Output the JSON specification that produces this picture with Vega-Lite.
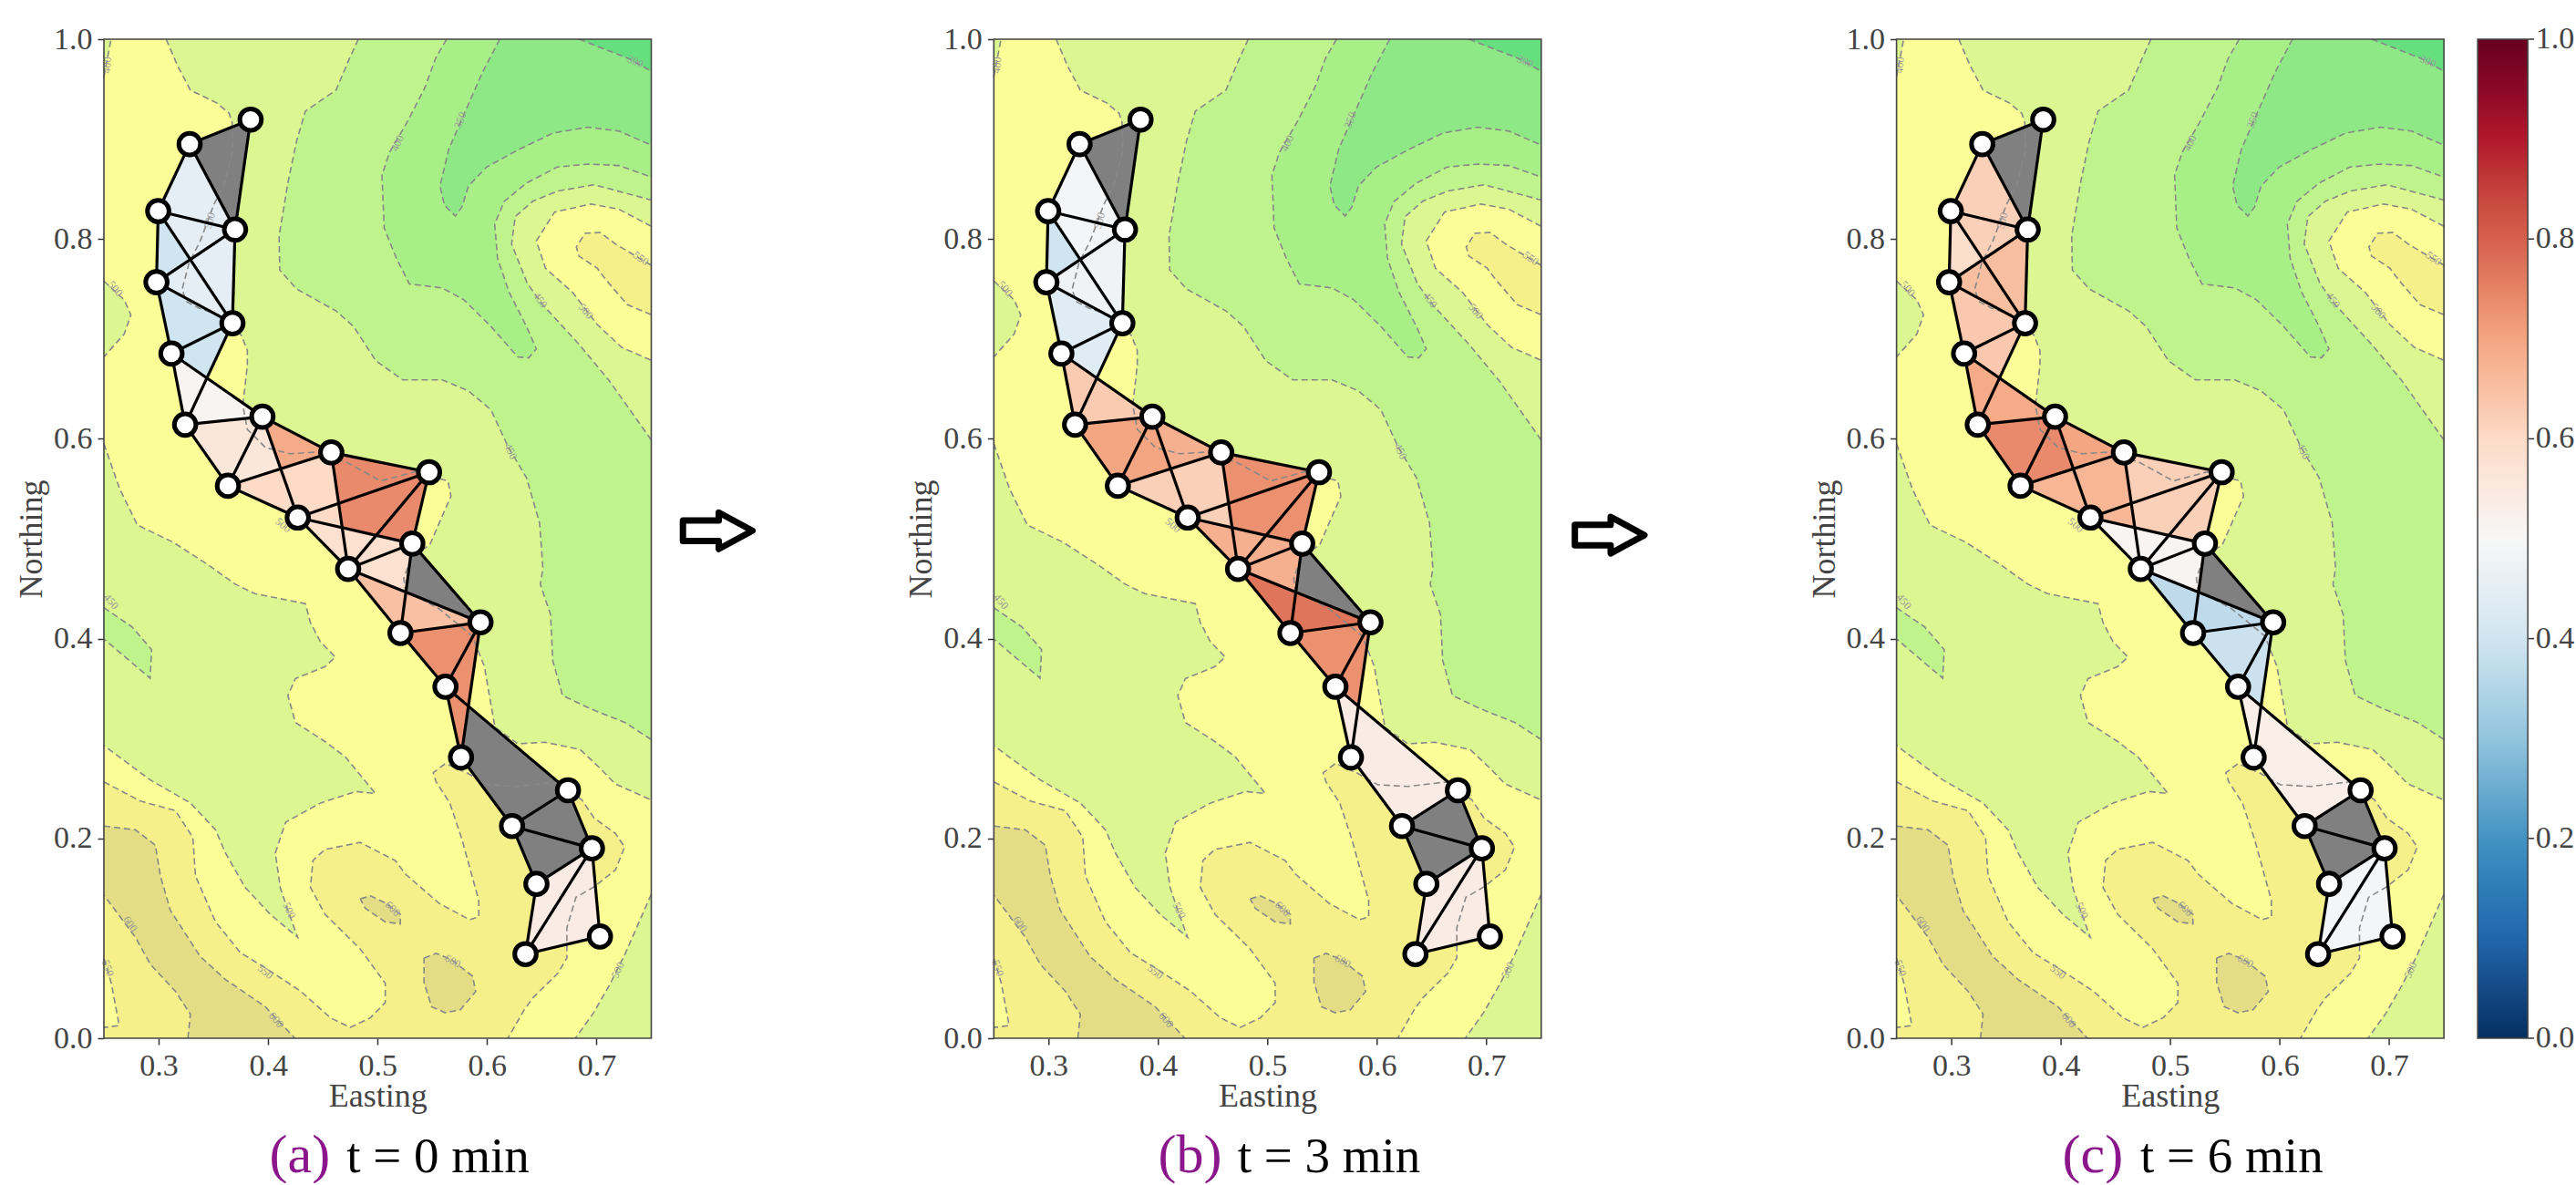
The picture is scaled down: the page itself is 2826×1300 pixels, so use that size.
{"$schema":"https://vega.github.io/schema/vega-lite/v6.json","padding":{"left":16,"top":26,"right":0,"bottom":0},"background":"white",
"config":{"view":{"fill":null,"stroke":null},"font":"Liberation Serif","axis":{"labelFont":"Liberation Serif","titleFont":"Liberation Serif","labelFontSize":34,"titleFontSize":36,"titleFontWeight":"normal","labelColor":"#444","titleColor":"#444","tickColor":"#333","tickSize":7,"tickWidth":1.5,"domain":false,"grid":false,"labelPadding":6,"labelFlush":false},"legend":{"labelFont":"Liberation Serif"}},
"datasets":{
"nodes":[{"n":1,"x":0.384,"y":0.9195},{"n":2,"x":0.3283,"y":0.895},{"n":3,"x":0.3698,"y":0.8095},{"n":4,"x":0.2996,"y":0.828},{"n":5,"x":0.298,"y":0.7568},{"n":6,"x":0.3674,"y":0.7157},{"n":7,"x":0.3117,"y":0.6854},{"n":8,"x":0.3242,"y":0.6142},{"n":9,"x":0.3948,"y":0.6222},{"n":10,"x":0.3633,"y":0.553},{"n":11,"x":0.4577,"y":0.5863},{"n":12,"x":0.547,"y":0.5666},{"n":13,"x":0.4271,"y":0.5212},{"n":14,"x":0.5317,"y":0.4951},{"n":15,"x":0.4731,"y":0.4698},{"n":16,"x":0.594,"y":0.4163},{"n":17,"x":0.5209,"y":0.4056},{"n":18,"x":0.562,"y":0.3518},{"n":19,"x":0.5762,"y":0.2812},{"n":20,"x":0.6739,"y":0.2482},{"n":21,"x":0.6228,"y":0.2124},{"n":22,"x":0.6958,"y":0.1901},{"n":23,"x":0.6451,"y":0.1545},{"n":24,"x":0.7031,"y":0.1018},{"n":25,"x":0.6351,"y":0.0842}],
"cellValues":[{"cell":"G","a":null,"b":null,"c":null},{"cell":"A","a":0.4,"b":0.4,"c":0.59},{"cell":"B","a":0.45,"b":0.49,"c":0.62},{"cell":"C","a":0.45,"b":0.48,"c":0.655},{"cell":"D","a":0.4,"b":0.44,"c":0.635},{"cell":"E","a":0.51,"b":0.63,"c":0.69},{"cell":"F","a":0.56,"b":0.7,"c":0.74},{"cell":"H","a":0.69,"b":0.68,"c":0.7},{"cell":"I","a":0.74,"b":0.73,"c":0.62},{"cell":"J","a":0.6,"b":0.62,"c":0.67},{"cell":"K","a":0.58,"b":0.68,"c":0.51},{"cell":"L","a":null,"b":null,"c":null},{"cell":"M","a":0.58,"b":0.68,"c":0.51},{"cell":"N","a":0.65,"b":0.77,"c":0.37},{"cell":"O","a":0.73,"b":0.73,"c":0.39},{"cell":"P","a":null,"b":0.54,"c":0.53},{"cell":"Q","a":null,"b":null,"c":null},{"cell":"R","a":0.54,"b":0.54,"c":0.49}],
"cellVertices":[{"cell":"G","i":0,"n":1},{"cell":"G","i":1,"n":2},{"cell":"G","i":2,"n":3},{"cell":"A","i":0,"n":4},{"cell":"A","i":1,"n":5},{"cell":"A","i":2,"n":6},{"cell":"B","i":0,"n":2},{"cell":"B","i":1,"n":3},{"cell":"B","i":2,"n":6},{"cell":"B","i":3,"n":4},{"cell":"C","i":0,"n":3},{"cell":"C","i":1,"n":5},{"cell":"C","i":2,"n":6},{"cell":"D","i":0,"n":5},{"cell":"D","i":1,"n":6},{"cell":"D","i":2,"n":8},{"cell":"D","i":3,"n":7},{"cell":"E","i":0,"n":7},{"cell":"E","i":1,"n":8},{"cell":"E","i":2,"n":9},{"cell":"F","i":0,"n":8},{"cell":"F","i":1,"n":9},{"cell":"F","i":2,"n":13},{"cell":"F","i":3,"n":10},{"cell":"H","i":0,"n":9},{"cell":"H","i":1,"n":11},{"cell":"H","i":2,"n":13},{"cell":"I","i":0,"n":11},{"cell":"I","i":1,"n":12},{"cell":"I","i":2,"n":14},{"cell":"I","i":3,"n":13},{"cell":"J","i":0,"n":10},{"cell":"J","i":1,"n":11},{"cell":"J","i":2,"n":15},{"cell":"J","i":3,"n":13},{"cell":"K","i":0,"n":13},{"cell":"K","i":1,"n":14},{"cell":"K","i":2,"n":15},{"cell":"L","i":0,"n":14},{"cell":"L","i":1,"n":16},{"cell":"L","i":2,"n":17},{"cell":"M","i":0,"n":15},{"cell":"M","i":1,"n":14},{"cell":"M","i":2,"n":17},{"cell":"N","i":0,"n":15},{"cell":"N","i":1,"n":16},{"cell":"N","i":2,"n":17},{"cell":"O","i":0,"n":17},{"cell":"O","i":1,"n":16},{"cell":"O","i":2,"n":19},{"cell":"O","i":3,"n":18},{"cell":"P","i":0,"n":18},{"cell":"P","i":1,"n":20},{"cell":"P","i":2,"n":21},{"cell":"P","i":3,"n":19},{"cell":"Q","i":0,"n":20},{"cell":"Q","i":1,"n":22},{"cell":"Q","i":2,"n":23},{"cell":"Q","i":3,"n":21},{"cell":"R","i":0,"n":22},{"cell":"R","i":1,"n":24},{"cell":"R","i":2,"n":25},{"cell":"R","i":3,"n":23}],
"edges":[{"e":"1-2","i":0,"n":1},{"e":"1-2","i":1,"n":2},{"e":"1-3","i":0,"n":1},{"e":"1-3","i":1,"n":3},{"e":"2-3","i":0,"n":2},{"e":"2-3","i":1,"n":3},{"e":"2-4","i":0,"n":2},{"e":"2-4","i":1,"n":4},{"e":"3-4","i":0,"n":3},{"e":"3-4","i":1,"n":4},{"e":"4-5","i":0,"n":4},{"e":"4-5","i":1,"n":5},{"e":"3-5","i":0,"n":3},{"e":"3-5","i":1,"n":5},{"e":"4-6","i":0,"n":4},{"e":"4-6","i":1,"n":6},{"e":"3-6","i":0,"n":3},{"e":"3-6","i":1,"n":6},{"e":"5-6","i":0,"n":5},{"e":"5-6","i":1,"n":6},{"e":"5-7","i":0,"n":5},{"e":"5-7","i":1,"n":7},{"e":"6-7","i":0,"n":6},{"e":"6-7","i":1,"n":7},{"e":"6-8","i":0,"n":6},{"e":"6-8","i":1,"n":8},{"e":"7-8","i":0,"n":7},{"e":"7-8","i":1,"n":8},{"e":"7-9","i":0,"n":7},{"e":"7-9","i":1,"n":9},{"e":"8-9","i":0,"n":8},{"e":"8-9","i":1,"n":9},{"e":"8-10","i":0,"n":8},{"e":"8-10","i":1,"n":10},{"e":"9-10","i":0,"n":9},{"e":"9-10","i":1,"n":10},{"e":"9-11","i":0,"n":9},{"e":"9-11","i":1,"n":11},{"e":"9-13","i":0,"n":9},{"e":"9-13","i":1,"n":13},{"e":"10-11","i":0,"n":10},{"e":"10-11","i":1,"n":11},{"e":"10-13","i":0,"n":10},{"e":"10-13","i":1,"n":13},{"e":"11-12","i":0,"n":11},{"e":"11-12","i":1,"n":12},{"e":"11-15","i":0,"n":11},{"e":"11-15","i":1,"n":15},{"e":"12-13","i":0,"n":12},{"e":"12-13","i":1,"n":13},{"e":"12-14","i":0,"n":12},{"e":"12-14","i":1,"n":14},{"e":"12-15","i":0,"n":12},{"e":"12-15","i":1,"n":15},{"e":"13-14","i":0,"n":13},{"e":"13-14","i":1,"n":14},{"e":"13-15","i":0,"n":13},{"e":"13-15","i":1,"n":15},{"e":"14-15","i":0,"n":14},{"e":"14-15","i":1,"n":15},{"e":"14-16","i":0,"n":14},{"e":"14-16","i":1,"n":16},{"e":"14-17","i":0,"n":14},{"e":"14-17","i":1,"n":17},{"e":"15-16","i":0,"n":15},{"e":"15-16","i":1,"n":16},{"e":"15-17","i":0,"n":15},{"e":"15-17","i":1,"n":17},{"e":"16-17","i":0,"n":16},{"e":"16-17","i":1,"n":17},{"e":"16-18","i":0,"n":16},{"e":"16-18","i":1,"n":18},{"e":"17-18","i":0,"n":17},{"e":"17-18","i":1,"n":18},{"e":"16-19","i":0,"n":16},{"e":"16-19","i":1,"n":19},{"e":"18-19","i":0,"n":18},{"e":"18-19","i":1,"n":19},{"e":"18-20","i":0,"n":18},{"e":"18-20","i":1,"n":20},{"e":"19-21","i":0,"n":19},{"e":"19-21","i":1,"n":21},{"e":"20-21","i":0,"n":20},{"e":"20-21","i":1,"n":21},{"e":"20-22","i":0,"n":20},{"e":"20-22","i":1,"n":22},{"e":"21-22","i":0,"n":21},{"e":"21-22","i":1,"n":22},{"e":"21-23","i":0,"n":21},{"e":"21-23","i":1,"n":23},{"e":"22-23","i":0,"n":22},{"e":"22-23","i":1,"n":23},{"e":"22-24","i":0,"n":22},{"e":"22-24","i":1,"n":24},{"e":"23-25","i":0,"n":23},{"e":"23-25","i":1,"n":25},{"e":"24-25","i":0,"n":24},{"e":"24-25","i":1,"n":25},{"e":"22-25","i":0,"n":22},{"e":"22-25","i":1,"n":25}],
"labels":[{"t":"300","x":0.7355,"y":0.9777,"slope":25},{"t":"350","x":0.5753,"y":0.919,"slope":-70},{"t":"400","x":0.518,"y":0.896,"slope":-65},{"t":"400","x":0.2528,"y":0.974,"slope":-85},{"t":"500","x":0.2605,"y":0.7504,"slope":50},{"t":"450","x":0.6487,"y":0.739,"slope":55},{"t":"500","x":0.6903,"y":0.7277,"slope":50},{"t":"550","x":0.7407,"y":0.7807,"slope":35},{"t":"450","x":0.6217,"y":0.5875,"slope":65},{"t":"500","x":0.3464,"y":0.8186,"slope":-75},{"t":"500","x":0.4138,"y":0.5136,"slope":40},{"t":"450","x":0.2568,"y":0.4372,"slope":50},{"t":"600","x":0.2742,"y":0.1145,"slope":55},{"t":"500","x":0.4194,"y":0.1279,"slope":65},{"t":"600","x":0.5139,"y":0.1298,"slope":45},{"t":"600","x":0.5687,"y":0.0772,"slope":30},{"t":"500","x":0.7194,"y":0.0684,"slope":-65},{"t":"550","x":0.3975,"y":0.0665,"slope":40},{"t":"600","x":0.4075,"y":0.0184,"slope":50},{"t":"550","x":0.2537,"y":0.0703,"slope":70}],
"terrain":[
{"r":"a","lev":"450","seg":null,"i":0,"x":0.25,"y":0},{"r":"a","lev":"450","seg":null,"i":1,"x":0.75,"y":0},{"r":"a","lev":"450","seg":null,"i":2,"x":0.75,"y":1},{"r":"a","lev":"450","seg":null,"i":3,"x":0.25,"y":1},
{"r":"b","lev":"400","seg":"a","i":0,"x":0.4824,"y":1},{"r":"b","lev":"400","seg":"a","i":1,"x":0.4744,"y":0.981},{"r":"b","lev":"400","seg":"a","i":2,"x":0.462,"y":0.949},{"r":"b","lev":"400","seg":"a","i":3,"x":0.434,"y":0.928},{"r":"b","lev":"400","seg":"a","i":4,"x":0.426,"y":0.898},{"r":"b","lev":"400","seg":"a","i":5,"x":0.418,"y":0.856},{"r":"b","lev":"400","seg":"a","i":6,"x":0.41,"y":0.803},{"r":"b","lev":"400","seg":"a","i":7,"x":0.4106,"y":0.769},{"r":"b","lev":"400","seg":"a","i":8,"x":0.426,"y":0.75},{"r":"b","lev":"400","seg":"a","i":9,"x":0.462,"y":0.728},{"r":"b","lev":"400","seg":"a","i":10,"x":0.478,"y":0.7125},{"r":"b","lev":"400","seg":"a","i":11,"x":0.4985,"y":0.678},{"r":"b","lev":"400","seg":"a","i":12,"x":0.523,"y":0.659},{"r":"b","lev":"400","seg":"a","i":13,"x":0.559,"y":0.659},{"r":"b","lev":"400","seg":"a","i":14,"x":0.583,"y":0.648},{"r":"b","lev":"400","seg":"a","i":15,"x":0.6035,"y":0.629},{"r":"b","lev":"400","seg":"a","i":16,"x":0.6197,"y":0.591},{"r":"b","lev":"400","seg":"a","i":17,"x":0.636,"y":0.561},{"r":"b","lev":"400","seg":"a","i":18,"x":0.648,"y":0.5155},{"r":"b","lev":"400","seg":"a","i":19,"x":0.651,"y":0.47},{"r":"b","lev":"400","seg":"a","i":20,"x":0.6486,"y":0.4545},{"r":"b","lev":"400","seg":"a","i":21,"x":0.658,"y":0.424},{"r":"b","lev":"400","seg":"a","i":22,"x":0.66,"y":0.378},{"r":"b","lev":"400","seg":"a","i":23,"x":0.669,"y":0.343},{"r":"b","lev":"400","seg":"a","i":24,"x":0.694,"y":0.33},{"r":"b","lev":"400","seg":"a","i":25,"x":0.726,"y":0.316},{"r":"b","lev":"400","seg":"a","i":26,"x":0.75,"y":0.299},
{"r":"b","lev":"400","seg":"b","i":27,"x":0.75,"y":0.5988},{"r":"b","lev":"400","seg":"b","i":28,"x":0.7117,"y":0.658},{"r":"b","lev":"400","seg":"b","i":29,"x":0.684,"y":0.6946},{"r":"b","lev":"400","seg":"b","i":30,"x":0.6507,"y":0.7343},{"r":"b","lev":"400","seg":"b","i":31,"x":0.6368,"y":0.7555},{"r":"b","lev":"400","seg":"b","i":32,"x":0.6224,"y":0.795},{"r":"b","lev":"400","seg":"b","i":33,"x":0.6257,"y":0.8224},{"r":"b","lev":"400","seg":"b","i":34,"x":0.642,"y":0.838},{"r":"b","lev":"400","seg":"b","i":35,"x":0.6646,"y":0.848},{"r":"b","lev":"400","seg":"b","i":36,"x":0.6979,"y":0.8543},{"r":"b","lev":"400","seg":"b","i":37,"x":0.75,"y":0.839},{"r":"b","lev":"400","seg":null,"i":38,"x":0.75,"y":1},
{"r":"c","lev":"350","seg":"c","i":0,"x":0.563,"y":1},{"r":"c","lev":"350","seg":"c","i":1,"x":0.553,"y":0.981},{"r":"c","lev":"350","seg":"c","i":2,"x":0.543,"y":0.951},{"r":"c","lev":"350","seg":"c","i":3,"x":0.527,"y":0.917},{"r":"c","lev":"350","seg":"c","i":4,"x":0.511,"y":0.887},{"r":"c","lev":"350","seg":"c","i":5,"x":0.504,"y":0.864},{"r":"c","lev":"350","seg":"c","i":6,"x":0.506,"y":0.811},{"r":"c","lev":"350","seg":"c","i":7,"x":0.517,"y":0.781},{"r":"c","lev":"350","seg":"c","i":8,"x":0.529,"y":0.755},{"r":"c","lev":"350","seg":"c","i":9,"x":0.559,"y":0.751},{"r":"c","lev":"350","seg":"c","i":10,"x":0.579,"y":0.739},{"r":"c","lev":"350","seg":"c","i":11,"x":0.6035,"y":0.7125},{"r":"c","lev":"350","seg":"c","i":12,"x":0.628,"y":0.682},{"r":"c","lev":"350","seg":"c","i":13,"x":0.638,"y":0.681},{"r":"c","lev":"350","seg":"c","i":14,"x":0.645,"y":0.69},{"r":"c","lev":"350","seg":"c","i":15,"x":0.636,"y":0.7125},{"r":"c","lev":"350","seg":"c","i":16,"x":0.62,"y":0.747},{"r":"c","lev":"350","seg":"c","i":17,"x":0.6095,"y":0.781},{"r":"c","lev":"350","seg":"c","i":18,"x":0.607,"y":0.815},{"r":"c","lev":"350","seg":"c","i":19,"x":0.6156,"y":0.8375},{"r":"c","lev":"350","seg":"c","i":20,"x":0.636,"y":0.856},{"r":"c","lev":"350","seg":"c","i":21,"x":0.664,"y":0.872},{"r":"c","lev":"350","seg":"c","i":22,"x":0.692,"y":0.875},{"r":"c","lev":"350","seg":"c","i":23,"x":0.7205,"y":0.8735},{"r":"c","lev":"350","seg":"c","i":24,"x":0.75,"y":0.862},{"r":"c","lev":"350","seg":null,"i":25,"x":0.75,"y":1},
{"r":"d","lev":"300","seg":"d","i":0,"x":0.6116,"y":1},{"r":"d","lev":"300","seg":"d","i":1,"x":0.5954,"y":0.966},{"r":"d","lev":"300","seg":"d","i":2,"x":0.579,"y":0.925},{"r":"d","lev":"300","seg":"d","i":3,"x":0.565,"y":0.89},{"r":"d","lev":"300","seg":"d","i":4,"x":0.557,"y":0.853},{"r":"d","lev":"300","seg":"d","i":5,"x":0.561,"y":0.834},{"r":"d","lev":"300","seg":"d","i":6,"x":0.571,"y":0.823},{"r":"d","lev":"300","seg":"d","i":7,"x":0.577,"y":0.832},{"r":"d","lev":"300","seg":"d","i":8,"x":0.583,"y":0.853},{"r":"d","lev":"300","seg":"d","i":9,"x":0.5995,"y":0.872},{"r":"d","lev":"300","seg":"d","i":10,"x":0.628,"y":0.889},{"r":"d","lev":"300","seg":"d","i":11,"x":0.66,"y":0.906},{"r":"d","lev":"300","seg":"d","i":12,"x":0.692,"y":0.912},{"r":"d","lev":"300","seg":"d","i":13,"x":0.7205,"y":0.908},{"r":"d","lev":"300","seg":"d","i":14,"x":0.75,"y":0.894},{"r":"d","lev":"300","seg":null,"i":15,"x":0.75,"y":1},
{"r":"e","lev":"250","seg":"e","i":0,"x":0.684,"y":1},{"r":"e","lev":"250","seg":"e","i":1,"x":0.7286,"y":0.981},{"r":"e","lev":"250","seg":"e","i":2,"x":0.75,"y":0.968},{"r":"e","lev":"250","seg":null,"i":3,"x":0.75,"y":1},
{"r":"f","lev":"500","seg":"f","i":0,"x":0.3069,"y":1},{"r":"f","lev":"500","seg":"f","i":1,"x":0.317,"y":0.974},{"r":"f","lev":"500","seg":"f","i":2,"x":0.329,"y":0.949},{"r":"f","lev":"500","seg":"f","i":3,"x":0.3533,"y":0.936},{"r":"f","lev":"500","seg":"f","i":4,"x":0.3644,"y":0.9258},{"r":"f","lev":"500","seg":"f","i":5,"x":0.3671,"y":0.9167},{"r":"f","lev":"500","seg":"f","i":6,"x":0.368,"y":0.89},{"r":"f","lev":"500","seg":"f","i":7,"x":0.36,"y":0.855},{"r":"f","lev":"500","seg":"f","i":8,"x":0.3505,"y":0.8347},{"r":"f","lev":"500","seg":"f","i":9,"x":0.338,"y":0.798},{"r":"f","lev":"500","seg":"f","i":10,"x":0.328,"y":0.7768},{"r":"f","lev":"500","seg":"f","i":11,"x":0.3214,"y":0.7494},{"r":"f","lev":"500","seg":"f","i":12,"x":0.3256,"y":0.7372},{"r":"f","lev":"500","seg":"f","i":13,"x":0.3363,"y":0.7311},{"r":"f","lev":"500","seg":"f","i":14,"x":0.356,"y":0.7235},{"r":"f","lev":"500","seg":"f","i":15,"x":0.3755,"y":0.7037},{"r":"f","lev":"500","seg":"f","i":16,"x":0.381,"y":0.6886},{"r":"f","lev":"500","seg":"f","i":17,"x":0.381,"y":0.6734},{"r":"f","lev":"500","seg":"f","i":18,"x":0.3769,"y":0.6338},{"r":"f","lev":"500","seg":"f","i":19,"x":0.381,"y":0.6095},{"r":"f","lev":"500","seg":"f","i":20,"x":0.3977,"y":0.5912},{"r":"f","lev":"500","seg":"f","i":21,"x":0.4196,"y":0.5851},{"r":"f","lev":"500","seg":"f","i":22,"x":0.4446,"y":0.5867},{"r":"f","lev":"500","seg":"f","i":23,"x":0.4726,"y":0.576},{"r":"f","lev":"500","seg":"f","i":24,"x":0.5029,"y":0.5578},{"r":"f","lev":"500","seg":"f","i":25,"x":0.5337,"y":0.5669},{"r":"f","lev":"500","seg":"f","i":26,"x":0.5642,"y":0.5578},{"r":"f","lev":"500","seg":"f","i":27,"x":0.567,"y":0.5426},{"r":"f","lev":"500","seg":"f","i":28,"x":0.5476,"y":0.4939},{"r":"f","lev":"500","seg":"f","i":29,"x":0.5309,"y":0.4818},{"r":"f","lev":"500","seg":"f","i":30,"x":0.5239,"y":0.4605},{"r":"f","lev":"500","seg":"f","i":31,"x":0.5254,"y":0.4483},{"r":"f","lev":"500","seg":"f","i":32,"x":0.556,"y":0.43},{"r":"f","lev":"500","seg":"f","i":33,"x":0.5864,"y":0.4027},{"r":"f","lev":"500","seg":"f","i":34,"x":0.5975,"y":0.3723},{"r":"f","lev":"500","seg":"f","i":35,"x":0.6028,"y":0.3388},{"r":"f","lev":"500","seg":"f","i":36,"x":0.6072,"y":0.3114},{"r":"f","lev":"500","seg":"f","i":37,"x":0.628,"y":0.2947},{"r":"f","lev":"500","seg":"f","i":38,"x":0.6528,"y":0.2963},{"r":"f","lev":"500","seg":"f","i":39,"x":0.685,"y":0.289},{"r":"f","lev":"500","seg":"f","i":40,"x":0.7034,"y":0.27},{"r":"f","lev":"500","seg":"f","i":41,"x":0.717,"y":0.2547},{"r":"f","lev":"500","seg":"f","i":42,"x":0.75,"y":0.2385},
{"r":"f","lev":"500","seg":"g","i":43,"x":0.75,"y":0.1442},{"r":"f","lev":"500","seg":"g","i":44,"x":0.7256,"y":0.0833},{"r":"f","lev":"500","seg":"g","i":45,"x":0.7117,"y":0.053},{"r":"f","lev":"500","seg":"g","i":46,"x":0.697,"y":0.025},{"r":"f","lev":"500","seg":"g","i":47,"x":0.6806,"y":0},{"r":"f","lev":"500","seg":null,"i":48,"x":0.25,"y":0},{"r":"f","lev":"500","seg":"h","i":49,"x":0.25,"y":0.9625},{"r":"f","lev":"500","seg":"h","i":50,"x":0.2565,"y":1},
{"r":"g","lev":"450","seg":"i","i":0,"x":0.25,"y":0.595},{"r":"g","lev":"450","seg":"i","i":1,"x":0.2645,"y":0.5496},{"r":"g","lev":"450","seg":"i","i":2,"x":0.2807,"y":0.5136},{"r":"g","lev":"450","seg":"i","i":3,"x":0.313,"y":0.4966},{"r":"g","lev":"450","seg":"i","i":4,"x":0.345,"y":0.474},{"r":"g","lev":"450","seg":"i","i":5,"x":0.37,"y":0.4545},{"r":"g","lev":"450","seg":"i","i":6,"x":0.388,"y":0.445},{"r":"g","lev":"450","seg":"i","i":7,"x":0.434,"y":0.435},{"r":"g","lev":"450","seg":"i","i":8,"x":0.4386,"y":0.416},{"r":"g","lev":"450","seg":"i","i":9,"x":0.4477,"y":0.397},{"r":"g","lev":"450","seg":"i","i":10,"x":0.4614,"y":0.3815},{"r":"g","lev":"450","seg":"i","i":11,"x":0.452,"y":0.372},{"r":"g","lev":"450","seg":"i","i":12,"x":0.425,"y":0.36},{"r":"g","lev":"450","seg":"i","i":13,"x":0.418,"y":0.343},{"r":"g","lev":"450","seg":"i","i":14,"x":0.425,"y":0.316},{"r":"g","lev":"450","seg":"i","i":15,"x":0.452,"y":0.297},{"r":"g","lev":"450","seg":"i","i":16,"x":0.4705,"y":0.2816},{"r":"g","lev":"450","seg":"i","i":17,"x":0.498,"y":0.245},{"r":"g","lev":"450","seg":"i","i":18,"x":0.48,"y":0.247},{"r":"g","lev":"450","seg":"i","i":19,"x":0.448,"y":0.2355},{"r":"g","lev":"450","seg":"i","i":20,"x":0.416,"y":0.2163},{"r":"g","lev":"450","seg":"i","i":21,"x":0.4066,"y":0.1855},{"r":"g","lev":"450","seg":"i","i":22,"x":0.411,"y":0.151},{"r":"g","lev":"450","seg":"i","i":23,"x":0.418,"y":0.128},{"r":"g","lev":"450","seg":"i","i":24,"x":0.427,"y":0.101},{"r":"g","lev":"450","seg":"i","i":25,"x":0.402,"y":0.124},{"r":"g","lev":"450","seg":"i","i":26,"x":0.379,"y":0.151},{"r":"g","lev":"450","seg":"i","i":27,"x":0.361,"y":0.1855},{"r":"g","lev":"450","seg":"i","i":28,"x":0.352,"y":0.2086},{"r":"g","lev":"450","seg":"i","i":29,"x":0.329,"y":0.2355},{"r":"g","lev":"450","seg":"i","i":30,"x":0.2924,"y":0.2585},{"r":"g","lev":"450","seg":"i","i":31,"x":0.25,"y":0.293},
{"r":"h","lev":"450","seg":"j","i":0,"x":0.25,"y":0.758},{"r":"h","lev":"450","seg":"j","i":1,"x":0.2686,"y":0.739},{"r":"h","lev":"450","seg":"j","i":2,"x":0.2746,"y":0.724},{"r":"h","lev":"450","seg":"j","i":3,"x":0.2686,"y":0.705},{"r":"h","lev":"450","seg":"j","i":4,"x":0.25,"y":0.682},
{"r":"q","lev":"400","seg":"k","i":0,"x":0.25,"y":0.431},{"r":"q","lev":"400","seg":"k","i":1,"x":0.2756,"y":0.4118},{"r":"q","lev":"400","seg":"k","i":2,"x":0.2936,"y":0.389},{"r":"q","lev":"400","seg":"k","i":3,"x":0.2922,"y":0.3604},{"r":"q","lev":"400","seg":"k","i":4,"x":0.25,"y":0.3996},
{"r":"j","lev":"550","seg":"l","i":0,"x":0.25,"y":0.2566},{"r":"j","lev":"550","seg":"l","i":1,"x":0.2833,"y":0.2374},{"r":"j","lev":"550","seg":"l","i":2,"x":0.3153,"y":0.2278},{"r":"j","lev":"550","seg":"l","i":3,"x":0.3313,"y":0.2009},{"r":"j","lev":"550","seg":"l","i":4,"x":0.3336,"y":0.1625},{"r":"j","lev":"550","seg":"l","i":5,"x":0.352,"y":0.1164},{"r":"j","lev":"550","seg":"l","i":6,"x":0.3747,"y":0.0857},{"r":"j","lev":"550","seg":"l","i":7,"x":0.3975,"y":0.0703},{"r":"j","lev":"550","seg":"l","i":8,"x":0.4295,"y":0.0473},{"r":"j","lev":"550","seg":"l","i":9,"x":0.457,"y":0.0204},{"r":"j","lev":"550","seg":"l","i":10,"x":0.475,"y":0.0108},{"r":"j","lev":"550","seg":"l","i":11,"x":0.4934,"y":0.0204},{"r":"j","lev":"550","seg":"l","i":12,"x":0.507,"y":0.0357},{"r":"j","lev":"550","seg":"l","i":13,"x":0.507,"y":0.055},{"r":"j","lev":"550","seg":"l","i":14,"x":0.484,"y":0.0895},{"r":"j","lev":"550","seg":"l","i":15,"x":0.452,"y":0.124},{"r":"j","lev":"550","seg":"l","i":16,"x":0.4386,"y":0.151},{"r":"j","lev":"550","seg":"l","i":17,"x":0.441,"y":0.178},{"r":"j","lev":"550","seg":"l","i":18,"x":0.452,"y":0.189},{"r":"j","lev":"550","seg":"l","i":19,"x":0.484,"y":0.196},{"r":"j","lev":"550","seg":"l","i":20,"x":0.516,"y":0.178},{"r":"j","lev":"550","seg":"l","i":21,"x":0.5258,"y":0.164},{"r":"j","lev":"550","seg":"l","i":22,"x":0.5563,"y":0.135},{"r":"j","lev":"550","seg":"l","i":23,"x":0.584,"y":0.1186},{"r":"j","lev":"550","seg":"l","i":24,"x":0.5924,"y":0.1214},{"r":"j","lev":"550","seg":"l","i":25,"x":0.5924,"y":0.138},{"r":"j","lev":"550","seg":"l","i":26,"x":0.5771,"y":0.1989},{"r":"j","lev":"550","seg":"l","i":27,"x":0.566,"y":0.2354},{"r":"j","lev":"550","seg":"l","i":28,"x":0.5534,"y":0.2567},{"r":"j","lev":"550","seg":"l","i":29,"x":0.5508,"y":0.2658},{"r":"j","lev":"550","seg":"l","i":30,"x":0.5619,"y":0.2749},{"r":"j","lev":"550","seg":"l","i":31,"x":0.5813,"y":0.2658},{"r":"j","lev":"550","seg":"l","i":32,"x":0.6007,"y":0.2537},{"r":"j","lev":"550","seg":"l","i":33,"x":0.6285,"y":0.2521},{"r":"j","lev":"550","seg":"l","i":34,"x":0.6646,"y":0.2567},{"r":"j","lev":"550","seg":"l","i":35,"x":0.6867,"y":0.2385},{"r":"j","lev":"550","seg":"l","i":36,"x":0.6979,"y":0.2202},{"r":"j","lev":"550","seg":"l","i":37,"x":0.7173,"y":0.205},{"r":"j","lev":"550","seg":"l","i":38,"x":0.7256,"y":0.1913},{"r":"j","lev":"550","seg":"l","i":39,"x":0.7173,"y":0.1685},{"r":"j","lev":"550","seg":"l","i":40,"x":0.6979,"y":0.1517},{"r":"j","lev":"550","seg":"l","i":41,"x":0.6812,"y":0.1411},{"r":"j","lev":"550","seg":"l","i":42,"x":0.6729,"y":0.1107},{"r":"j","lev":"550","seg":"l","i":43,"x":0.6729,"y":0.0803},{"r":"j","lev":"550","seg":"l","i":44,"x":0.6646,"y":0.065},{"r":"j","lev":"550","seg":"l","i":45,"x":0.6423,"y":0.041},{"r":"j","lev":"550","seg":"l","i":46,"x":0.634,"y":0.0286},{"r":"j","lev":"550","seg":"l","i":47,"x":0.619,"y":0},{"r":"j","lev":"550","seg":null,"i":48,"x":0.25,"y":0},
{"r":"k","lev":"500","seg":"m","i":0,"x":0.25,"y":0.08},{"r":"k","lev":"500","seg":"m","i":1,"x":0.2568,"y":0.055},{"r":"k","lev":"500","seg":"m","i":2,"x":0.264,"y":0.0127},{"r":"k","lev":"500","seg":"m","i":3,"x":0.25,"y":0.0108},
{"r":"l","lev":"600","seg":"n","i":0,"x":0.25,"y":0.2124},{"r":"l","lev":"600","seg":"n","i":1,"x":0.2788,"y":0.2086},{"r":"l","lev":"600","seg":"n","i":2,"x":0.297,"y":0.1932},{"r":"l","lev":"600","seg":"n","i":3,"x":0.3016,"y":0.1625},{"r":"l","lev":"600","seg":"n","i":4,"x":0.3107,"y":0.128},{"r":"l","lev":"600","seg":"n","i":5,"x":0.338,"y":0.0818},{"r":"l","lev":"600","seg":"n","i":6,"x":0.361,"y":0.0588},{"r":"l","lev":"600","seg":"n","i":7,"x":0.397,"y":0.032},{"r":"l","lev":"600","seg":"n","i":8,"x":0.4245,"y":0},{"r":"l","lev":"600","seg":"o","i":9,"x":0.3267,"y":0},{"r":"l","lev":"600","seg":"o","i":10,"x":0.329,"y":0.024},{"r":"l","lev":"600","seg":"o","i":11,"x":0.3153,"y":0.047},{"r":"l","lev":"600","seg":"o","i":12,"x":0.2924,"y":0.074},{"r":"l","lev":"600","seg":"o","i":13,"x":0.2788,"y":0.101},{"r":"l","lev":"600","seg":"o","i":14,"x":0.25,"y":0.1433},
{"r":"m","lev":"600","seg":"p","i":0,"x":0.4842,"y":0.1395},{"r":"m","lev":"600","seg":"p","i":1,"x":0.4934,"y":0.1425},{"r":"m","lev":"600","seg":"p","i":2,"x":0.507,"y":0.1356},{"r":"m","lev":"600","seg":"p","i":3,"x":0.5208,"y":0.124},{"r":"m","lev":"600","seg":"p","i":4,"x":0.5208,"y":0.1145},{"r":"m","lev":"600","seg":"p","i":5,"x":0.507,"y":0.1164},{"r":"m","lev":"600","seg":"p","i":6,"x":0.4888,"y":0.13},{"r":"m","lev":"600","seg":"p","i":7,"x":0.4842,"y":0.1395},
{"r":"n","lev":"600","seg":"t","i":0,"x":0.5424,"y":0.0803},{"r":"n","lev":"600","seg":"t","i":1,"x":0.5535,"y":0.0849},{"r":"n","lev":"600","seg":"t","i":2,"x":0.5674,"y":0.0788},{"r":"n","lev":"600","seg":"t","i":3,"x":0.5868,"y":0.062},{"r":"n","lev":"600","seg":"t","i":4,"x":0.5896,"y":0.0468},{"r":"n","lev":"600","seg":"t","i":5,"x":0.5757,"y":0.0286},{"r":"n","lev":"600","seg":"t","i":6,"x":0.5618,"y":0.0255},{"r":"n","lev":"600","seg":"t","i":7,"x":0.5493,"y":0.0316},{"r":"n","lev":"600","seg":"t","i":8,"x":0.5424,"y":0.0559},{"r":"n","lev":"600","seg":"t","i":9,"x":0.5424,"y":0.0803},
{"r":"o","lev":"500","seg":"r","i":0,"x":0.75,"y":0.8127},{"r":"o","lev":"500","seg":"r","i":1,"x":0.72,"y":0.83},{"r":"o","lev":"500","seg":"r","i":2,"x":0.695,"y":0.835},{"r":"o","lev":"500","seg":"r","i":3,"x":0.6617,"y":0.827},{"r":"o","lev":"500","seg":"r","i":4,"x":0.645,"y":0.798},{"r":"o","lev":"500","seg":"r","i":5,"x":0.6534,"y":0.7707},{"r":"o","lev":"500","seg":"r","i":6,"x":0.6783,"y":0.7464},{"r":"o","lev":"500","seg":"r","i":7,"x":0.7006,"y":0.7144},{"r":"o","lev":"500","seg":"r","i":8,"x":0.7229,"y":0.6916},{"r":"o","lev":"500","seg":"r","i":9,"x":0.75,"y":0.6785},
{"r":"p","lev":"550","seg":"s","i":0,"x":0.75,"y":0.7737},{"r":"p","lev":"550","seg":"s","i":1,"x":0.7173,"y":0.795},{"r":"p","lev":"550","seg":"s","i":2,"x":0.7034,"y":0.8066},{"r":"p","lev":"550","seg":"s","i":3,"x":0.6895,"y":0.8057},{"r":"p","lev":"550","seg":"s","i":4,"x":0.6815,"y":0.792},{"r":"p","lev":"550","seg":"s","i":5,"x":0.684,"y":0.7828},{"r":"p","lev":"550","seg":"s","i":6,"x":0.7006,"y":0.7708},{"r":"p","lev":"550","seg":"s","i":7,"x":0.709,"y":0.7585},{"r":"p","lev":"550","seg":"s","i":8,"x":0.7283,"y":0.7342},{"r":"p","lev":"550","seg":"s","i":9,"x":0.75,"y":0.7242}
]},
"bounds":"flush","spacing":375.3,"resolve":{"scale":{"fill":"independent"},"legend":{"fill":"independent"}},
"hconcat":[
{"width":600.5,"height":1096,
"encoding":{"x":{"field":"x","type":"quantitative","scale":{"domain":[0.25,0.75],"nice":false,"zero":false},"axis":{"title":"Easting","values":[0.3,0.4,0.5,0.6,0.7],"format":".1f","titlePadding":-1}},"y":{"field":"y","type":"quantitative","scale":{"domain":[0,1],"nice":false,"zero":false},"axis":{"title":"Northing","values":[0,0.2,0.4,0.6,0.8,1],"format":".1f","titlePadding":5}}},
"layer":[
{"data":{"name":"terrain"},"mark":{"type":"line","filled":true,"stroke":null,"strokeWidth":0},"encoding":{"detail":{"field":"r"},"order":{"field":"i"},"color":{"field":"lev","type":"nominal","scale":{"domain":["250","300","350","400","450","500","550","600"],"range":["#66e07f","#8de885","#a9ef88","#bff38c","#dcf792","#fbfd96","#f5f08a","#e3de85"]},"legend":null}}},
{"data":{"name":"cellVertices"},"transform":[{"lookup":"n","from":{"data":{"name":"nodes"},"key":"n","fields":["x","y"]}},{"lookup":"cell","from":{"data":{"name":"cellValues"},"key":"cell","fields":["a"]},"as":["v"]},{"filter":"datum.v==null"}],"mark":{"type":"line","fill":"#808080","stroke":null,"strokeWidth":0},"encoding":{"detail":{"field":"cell"},"order":{"field":"i"}}},
{"data":{"name":"cellVertices"},"transform":[{"lookup":"n","from":{"data":{"name":"nodes"},"key":"n","fields":["x","y"]}},{"lookup":"cell","from":{"data":{"name":"cellValues"},"key":"cell","fields":["a"]},"as":["v"]},{"filter":"datum.v!=null"}],"mark":{"type":"line","strokeWidth":0},"encoding":{"detail":{"field":"cell"},"order":{"field":"i"},"fill":{"field":"v","type":"quantitative","scale":{"domain":[0,0.1,0.2,0.3,0.4,0.5,0.6,0.7,0.8,0.9,1],"range":["#053061","#2166ac","#4393c3","#92c5de","#d1e5f0","#f7f7f7","#fddbc7","#f4a582","#d6604d","#b2182b","#67001f"],"zero":false,"nice":false},"legend":null}}},
{"data":{"name":"terrain"},"transform":[{"filter":"datum.seg!=null"}],"mark":{"type":"line","stroke":"#888888","strokeWidth":1.6,"strokeDash":[7,4]},"encoding":{"detail":{"field":"seg"},"order":{"field":"i"}}},
{"data":{"name":"labels"},"mark":{"type":"text","font":"Liberation Serif","fontSize":12,"color":"#999999"},"encoding":{"text":{"field":"t"},"angle":{"field":"slope","type":"quantitative","scale":null}}},
{"data":{"name":"edges"},"transform":[{"lookup":"n","from":{"data":{"name":"nodes"},"key":"n","fields":["x","y"]}}],"mark":{"type":"line","stroke":"black","strokeWidth":3.2},"encoding":{"detail":{"field":"e"},"order":{"field":"i"}}},
{"data":{"name":"nodes"},"mark":{"type":"point","shape":"circle","filled":true,"fill":"white","stroke":"black","strokeWidth":5,"size":560,"opacity":1}},
{"mark":{"type":"rect","fill":null,"stroke":"#444444","strokeWidth":1.6},"data":{"values":[{"x":0.25,"y":0,"x1":0.75,"y1":1}]},"encoding":{"x2":{"field":"x1"},"y2":{"field":"y1"}}},
{"data":{"values":[{"x":0.4289,"y":-0.1341,"t":"(a)"}]},"mark":{"type":"text","font":"Liberation Serif","fontSize":60,"color":"#8b158b","baseline":"alphabetic"},"encoding":{"text":{"field":"t"}}},
{"data":{"values":[{"x":0.5552,"y":-0.1341,"t":"t = 0 min"}]},"mark":{"type":"text","font":"Liberation Serif","fontSize":55,"color":"black","baseline":"alphabetic"},"encoding":{"text":{"field":"t"}}},
{"data":{"values":[{"x":0.8108,"y":0.508}]},"mark":{"type":"point","shape":"M-.383,-.113L.01,-.113L.01,-.2L.38,0L.01,.2L.01,.113L-.383,.113Z","size":40000,"filled":true,"fill":"white","stroke":"black","strokeWidth":7,"strokeJoin":"round","opacity":1}}
]},
{"width":614.2,"height":1096,
"encoding":{"x":{"field":"x","type":"quantitative","scale":{"domain":[0.25,0.75],"nice":false,"zero":false,"range":[0,600.5]},"axis":{"title":"Easting","values":[0.3,0.4,0.5,0.6,0.7],"format":".1f","titlePadding":-1}},"y":{"field":"y","type":"quantitative","scale":{"domain":[0,1],"nice":false,"zero":false},"axis":{"title":"Northing","values":[0,0.2,0.4,0.6,0.8,1],"format":".1f","titlePadding":5}}},
"layer":[
{"data":{"name":"terrain"},"mark":{"type":"line","filled":true,"stroke":null,"strokeWidth":0},"encoding":{"detail":{"field":"r"},"order":{"field":"i"},"color":{"field":"lev","type":"nominal","scale":{"domain":["250","300","350","400","450","500","550","600"],"range":["#66e07f","#8de885","#a9ef88","#bff38c","#dcf792","#fbfd96","#f5f08a","#e3de85"]},"legend":null}}},
{"data":{"name":"cellVertices"},"transform":[{"lookup":"n","from":{"data":{"name":"nodes"},"key":"n","fields":["x","y"]}},{"lookup":"cell","from":{"data":{"name":"cellValues"},"key":"cell","fields":["b"]},"as":["v"]},{"filter":"datum.v==null"}],"mark":{"type":"line","fill":"#808080","stroke":null,"strokeWidth":0},"encoding":{"detail":{"field":"cell"},"order":{"field":"i"}}},
{"data":{"name":"cellVertices"},"transform":[{"lookup":"n","from":{"data":{"name":"nodes"},"key":"n","fields":["x","y"]}},{"lookup":"cell","from":{"data":{"name":"cellValues"},"key":"cell","fields":["b"]},"as":["v"]},{"filter":"datum.v!=null"}],"mark":{"type":"line","strokeWidth":0},"encoding":{"detail":{"field":"cell"},"order":{"field":"i"},"fill":{"field":"v","type":"quantitative","scale":{"domain":[0,0.1,0.2,0.3,0.4,0.5,0.6,0.7,0.8,0.9,1],"range":["#053061","#2166ac","#4393c3","#92c5de","#d1e5f0","#f7f7f7","#fddbc7","#f4a582","#d6604d","#b2182b","#67001f"],"zero":false,"nice":false},"legend":null}}},
{"data":{"name":"terrain"},"transform":[{"filter":"datum.seg!=null"}],"mark":{"type":"line","stroke":"#888888","strokeWidth":1.6,"strokeDash":[7,4]},"encoding":{"detail":{"field":"seg"},"order":{"field":"i"}}},
{"data":{"name":"labels"},"mark":{"type":"text","font":"Liberation Serif","fontSize":12,"color":"#999999"},"encoding":{"text":{"field":"t"},"angle":{"field":"slope","type":"quantitative","scale":null}}},
{"data":{"name":"edges"},"transform":[{"lookup":"n","from":{"data":{"name":"nodes"},"key":"n","fields":["x","y"]}}],"mark":{"type":"line","stroke":"black","strokeWidth":3.2},"encoding":{"detail":{"field":"e"},"order":{"field":"i"}}},
{"data":{"name":"nodes"},"mark":{"type":"point","shape":"circle","filled":true,"fill":"white","stroke":"black","strokeWidth":5,"size":560,"opacity":1}},
{"mark":{"type":"rect","fill":null,"stroke":"#444444","strokeWidth":1.6},"data":{"values":[{"x":0.25,"y":0,"x1":0.75,"y1":1}]},"encoding":{"x2":{"field":"x1"},"y2":{"field":"y1"}}},
{"data":{"values":[{"x":0.4292,"y":-0.1341,"t":"(b)"}]},"mark":{"type":"text","font":"Liberation Serif","fontSize":60,"color":"#8b158b","baseline":"alphabetic"},"encoding":{"text":{"field":"t"}}},
{"data":{"values":[{"x":0.5562,"y":-0.1341,"t":"t = 3 min"}]},"mark":{"type":"text","font":"Liberation Serif","fontSize":55,"color":"black","baseline":"alphabetic"},"encoding":{"text":{"field":"t"}}},
{"data":{"values":[{"x":0.8126,"y":0.5036}]},"mark":{"type":"point","shape":"M-.383,-.113L.01,-.113L.01,-.2L.38,0L.01,.2L.01,.113L-.383,.113Z","size":40000,"filled":true,"fill":"white","stroke":"black","strokeWidth":7,"strokeJoin":"round","opacity":1}}
]},
{"width":600.5,"height":1096,
"encoding":{"x":{"field":"x","type":"quantitative","scale":{"domain":[0.25,0.75],"nice":false,"zero":false},"axis":{"title":"Easting","values":[0.3,0.4,0.5,0.6,0.7],"format":".1f","titlePadding":-1}},"y":{"field":"y","type":"quantitative","scale":{"domain":[0,1],"nice":false,"zero":false},"axis":{"title":"Northing","values":[0,0.2,0.4,0.6,0.8,1],"format":".1f","titlePadding":5}}},
"layer":[
{"data":{"name":"terrain"},"mark":{"type":"line","filled":true,"stroke":null,"strokeWidth":0},"encoding":{"detail":{"field":"r"},"order":{"field":"i"},"color":{"field":"lev","type":"nominal","scale":{"domain":["250","300","350","400","450","500","550","600"],"range":["#66e07f","#8de885","#a9ef88","#bff38c","#dcf792","#fbfd96","#f5f08a","#e3de85"]},"legend":null}}},
{"data":{"name":"cellVertices"},"transform":[{"lookup":"n","from":{"data":{"name":"nodes"},"key":"n","fields":["x","y"]}},{"lookup":"cell","from":{"data":{"name":"cellValues"},"key":"cell","fields":["c"]},"as":["v"]},{"filter":"datum.v==null"}],"mark":{"type":"line","fill":"#808080","stroke":null,"strokeWidth":0},"encoding":{"detail":{"field":"cell"},"order":{"field":"i"}}},
{"data":{"name":"cellVertices"},"transform":[{"lookup":"n","from":{"data":{"name":"nodes"},"key":"n","fields":["x","y"]}},{"lookup":"cell","from":{"data":{"name":"cellValues"},"key":"cell","fields":["c"]},"as":["v"]},{"filter":"datum.v!=null"}],"mark":{"type":"line","strokeWidth":0},"encoding":{"detail":{"field":"cell"},"order":{"field":"i"},"fill":{"field":"v","type":"quantitative","scale":{"domain":[0,0.1,0.2,0.3,0.4,0.5,0.6,0.7,0.8,0.9,1],"range":["#053061","#2166ac","#4393c3","#92c5de","#d1e5f0","#f7f7f7","#fddbc7","#f4a582","#d6604d","#b2182b","#67001f"],"zero":false,"nice":false},"legend":{"orient":"none","legendX":637.5,"legendY":0,"title":null,"values":[0,1],"labelExpr":"''","labelOpacity":0,"gradientLength":1096,"gradientThickness":55,"gradientStrokeColor":"#444444","gradientStrokeWidth":1.5}}}},
{"data":{"name":"terrain"},"transform":[{"filter":"datum.seg!=null"}],"mark":{"type":"line","stroke":"#888888","strokeWidth":1.6,"strokeDash":[7,4]},"encoding":{"detail":{"field":"seg"},"order":{"field":"i"}}},
{"data":{"name":"labels"},"mark":{"type":"text","font":"Liberation Serif","fontSize":12,"color":"#999999"},"encoding":{"text":{"field":"t"},"angle":{"field":"slope","type":"quantitative","scale":null}}},
{"data":{"name":"edges"},"transform":[{"lookup":"n","from":{"data":{"name":"nodes"},"key":"n","fields":["x","y"]}}],"mark":{"type":"line","stroke":"black","strokeWidth":3.2},"encoding":{"detail":{"field":"e"},"order":{"field":"i"}}},
{"data":{"name":"nodes"},"mark":{"type":"point","shape":"circle","filled":true,"fill":"white","stroke":"black","strokeWidth":5,"size":560,"opacity":1}},
{"mark":{"type":"rect","fill":null,"stroke":"#444444","strokeWidth":1.6},"data":{"values":[{"x":0.25,"y":0,"x1":0.75,"y1":1}]},"encoding":{"x2":{"field":"x1"},"y2":{"field":"y1"}}},
{"data":{"values":[{"x":0.8269,"x1":0.8324,"y":0},{"x":0.8269,"x1":0.8324,"y":0.2},{"x":0.8269,"x1":0.8324,"y":0.4},{"x":0.8269,"x1":0.8324,"y":0.6},{"x":0.8269,"x1":0.8324,"y":0.8},{"x":0.8269,"x1":0.8324,"y":1}]},"mark":{"type":"rule","stroke":"#333333","strokeWidth":1.5},"encoding":{"x2":{"field":"x1"}}},
{"data":{"values":[{"x":0.8338,"y":0,"t":"0.0"},{"x":0.8338,"y":0.2,"t":"0.2"},{"x":0.8338,"y":0.4,"t":"0.4"},{"x":0.8338,"y":0.6,"t":"0.6"},{"x":0.8338,"y":0.8,"t":"0.8"},{"x":0.8338,"y":1,"t":"1.0"}]},"mark":{"type":"text","font":"Liberation Serif","fontSize":34,"color":"#444444","align":"left","baseline":"middle"},"encoding":{"text":{"field":"t"}}},
{"data":{"values":[{"x":0.4292,"y":-0.1341,"t":"(c)"}]},"mark":{"type":"text","font":"Liberation Serif","fontSize":60,"color":"#8b158b","baseline":"alphabetic"},"encoding":{"text":{"field":"t"}}},
{"data":{"values":[{"x":0.5562,"y":-0.1341,"t":"t = 6 min"}]},"mark":{"type":"text","font":"Liberation Serif","fontSize":55,"color":"black","baseline":"alphabetic"},"encoding":{"text":{"field":"t"}}}
]}
]}
